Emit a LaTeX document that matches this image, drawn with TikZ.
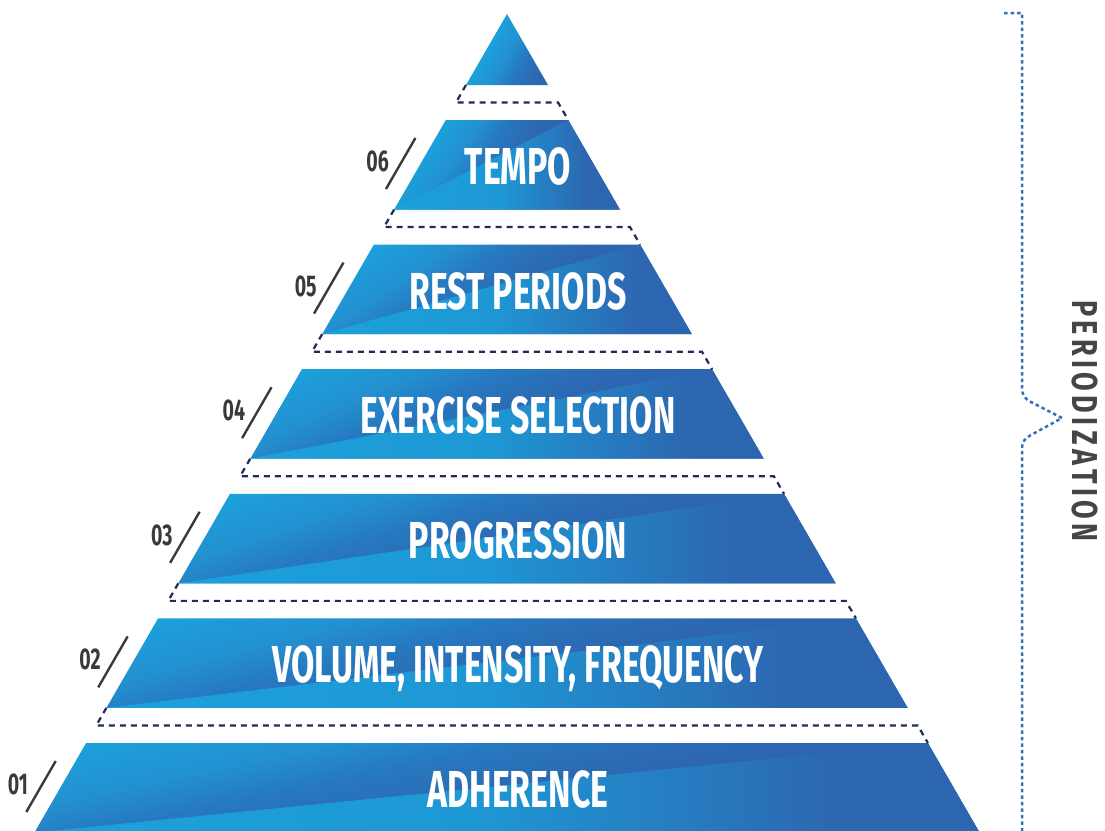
\documentclass[tikz,border=0pt]{standalone}
\usepackage{fontspec}
\newfontfamily\pyrfont[FakeStretch=0.65]{Fira Sans}
\newfontfamily\sidefont[FakeStretch=0.75]{Fira Sans}
\definecolor{pyrC}{HTML}{1BA1DB}
\definecolor{pyrC2}{HTML}{1E98D5}
\definecolor{pyrCM}{HTML}{2390D0}
\definecolor{pyrM}{HTML}{2679C0}
\definecolor{pyrMD}{HTML}{2B6DB5}
\definecolor{pyrD}{HTML}{2D66B0}
\definecolor{gapnavy}{HTML}{1F2B5A}
\definecolor{numgray}{HTML}{3A3A3A}
\definecolor{sidegray}{HTML}{454545}
\definecolor{bracketblue}{HTML}{3570B8}
% upper gradient: c=-1 at 25bp, c=0 at 41.67bp, c=1 at 58.33bp, c=2 at 75bp
\pgfdeclarehorizontalshading{upperG}{100bp}{color(0bp)=(pyrC); color(41.67bp)=(pyrC); color(46.67bp)=(pyrCM); color(50bp)=(pyrM); color(53.33bp)=(pyrMD); color(55.83bp)=(pyrD); color(100bp)=(pyrD)}
\pgfdeclarehorizontalshading{lowerS}{100bp}{color(0bp)=(pyrC); color(25bp)=(pyrC); color(48bp)=(pyrC2); color(68bp)=(pyrD); color(100bp)=(pyrD)}
\tikzset{
  layerlabel/.style={font=\pyrfont\bfseries\fontsize{52}{52}\selectfont, text=white, inner sep=0pt, anchor=base},
  numlabel/.style={font=\pyrfont\bfseries\fontsize{30}{30}\selectfont, text=numgray, inner sep=0pt, anchor=base},
  slashline/.style={draw=numgray, line width=2.4pt},
  gapline/.style={draw=gapnavy, line width=2.2pt, dash pattern=on 6pt off 5pt},
  bracketline/.style={draw=bracketblue, line width=2.5pt, dash pattern=on 3.5pt off 3pt},
  sidelabel/.style={font=\sidefont\bfseries\fontsize{36}{36}\selectfont, text=sidegray, inner sep=0pt, rotate=-90},
  lowershade/.style={shading=lowerS}
}
\newcommand\ptrk{\kern4.4pt}
% #1 clip path, #2 origin coordinate (c=0), #3 width for c=1, #4 height
\newcommand\pyrupper[4]{%
  \pgfmathsetmacro\pyA{100/(#3)}%
  \pgfmathsetmacro\pyBb{50/(#4)}%
  \pgfmathsetmacro\pyAng{atan(\pyBb/\pyA)}%
  \pgfmathsetmacro\pyD{100/sqrt(\pyA*\pyA+\pyBb*\pyBb)}%
  \begin{scope}
    \clip #1;
    \shade[shading=upperG, transform canvas={shift={#2}, rotate=-\pyAng}] (-\pyD,-1500) rectangle ({2*\pyD},1500);
  \end{scope}
}
\newcommand\pyrlayer[2]{%
  \pgfmathsetmacro\pyT{743-(#1-1)*124.6}%
  \pgfmathsetmacro\pyB{\pyT+89.5}%
  \pgfmathsetmacro\pyTL{507-0.57735*(\pyT-14)}%
  \pgfmathsetmacro\pyTR{507+0.57735*(\pyT-14)}%
  \pgfmathsetmacro\pyBL{507-0.57735*(\pyB-14)}%
  \pgfmathsetmacro\pyBR{507+0.57735*(\pyB-14)}%
  \pgfmathsetmacro\pyW{\pyTR-\pyTL}%
  \coordinate (tl#1) at (\pyTL,\pyT);
  \coordinate (tr#1) at (\pyTR,\pyT);
  \coordinate (bl#1) at (\pyBL,\pyB);
  \coordinate (br#1) at (\pyBR,\pyB);
  \pyrupper{(tl#1) -- (tr#1) -- (br#1) -- (bl#1) -- cycle}{(tl#1)}{\pyW}{89.5}
  \shade[lowershade] (bl#1) -- (tr#1) -- (br#1) -- cycle;
  \node[layerlabel] (lab#1) at (518,\pyT+64.5) {#2};
  \pgfmathsetmacro\pySa{\pyT+18}%
  \pgfmathsetmacro\pySb{\pyT+69}%
  \pgfmathsetmacro\pyXa{487-0.57735*(\pySa-14)}%
  \pgfmathsetmacro\pyXb{487-0.57735*(\pySb-14)}%
  \coordinate (sa#1) at (\pyXa,\pySa);
  \coordinate (sb#1) at (\pyXb,\pySb);
  \draw[slashline] (sa#1) -- (sb#1);
  \pgfmathsetmacro\pyXn{464-0.57735*(\pyT+29.5)}%
  \node[numlabel] (num#1) at (\pyXn,\pyT+51.5) {0#1};
}
\newcommand\pyrgap[3]{%
  \pgfmathsetmacro\pyM{(#2+#3)/2}%
  \pgfmathsetmacro\pyGa{507-0.57735*(#2-14)}%
  \pgfmathsetmacro\pyGb{507-0.57735*(\pyM-14)}%
  \pgfmathsetmacro\pyGc{507+0.57735*(\pyM-14)}%
  \pgfmathsetmacro\pyGd{507+0.57735*(#3-14)}%
  \coordinate (gA#1) at (\pyGa,#2);
  \coordinate (gB#1) at (\pyGb,\pyM);
  \coordinate (gC#1) at (\pyGc,\pyM);
  \coordinate (gD#1) at (\pyGd,#3);
  \draw[gapline] (gA#1) -- (gB#1) -- (gC#1) -- (gD#1);
}
\begin{document}
\begin{tikzpicture}[x=1pt,y=-1pt]
\useasboundingbox (0,0) rectangle (1105,830);
\clip (0,0) rectangle (1105,830);
% apex triangle
\coordinate (apex) at (507,14);
\coordinate (apexL) at (466.0,85);
\coordinate (apexR) at (548.0,85);
\pyrupper{(apex) -- (apexR) -- (apexL) -- cycle}{(apex)}{82}{71}
% layers
\pyrlayer{1}{ADHERENCE}
\pyrlayer{2}{VOLUME, INTENSITY, FREQUENCY}
\pyrlayer{3}{PROGRESSION}
\pyrlayer{4}{EXERCISE SELECTION}
\pyrlayer{5}{REST PERIODS}
\pyrlayer{6}{TEMPO}
% gaps
\pyrgap{6}{85}{120}
\pyrgap{5}{209.5}{244.6}
\pyrgap{4}{334.1}{369.2}
\pyrgap{3}{458.7}{493.8}
\pyrgap{2}{583.3}{618.4}
\pyrgap{1}{707.9}{743}
% bracket
\coordinate (bk0) at (1004,13);
\coordinate (bk1) at (1022,13);
\coordinate (bk2) at (1022,388);
\coordinate (bkT) at (1062,418);
\coordinate (bk3) at (1022,448);
\coordinate (bk4) at (1022,832);
\draw[bracketline] (bk0) -- (bk1) -- (bk2) .. controls (1022,395) and (1025,399) .. (1031,402) -- (bkT) -- (1031,435) .. controls (1025,438) and (1022,442) .. (bk3) -- (bk4);
\node[sidelabel] (period) at (1085,421) {P\ptrk E\ptrk R\ptrk I\ptrk O\ptrk D\ptrk I\ptrk Z\ptrk A\ptrk T\ptrk I\ptrk O\ptrk N};
\end{tikzpicture}
\end{document}
